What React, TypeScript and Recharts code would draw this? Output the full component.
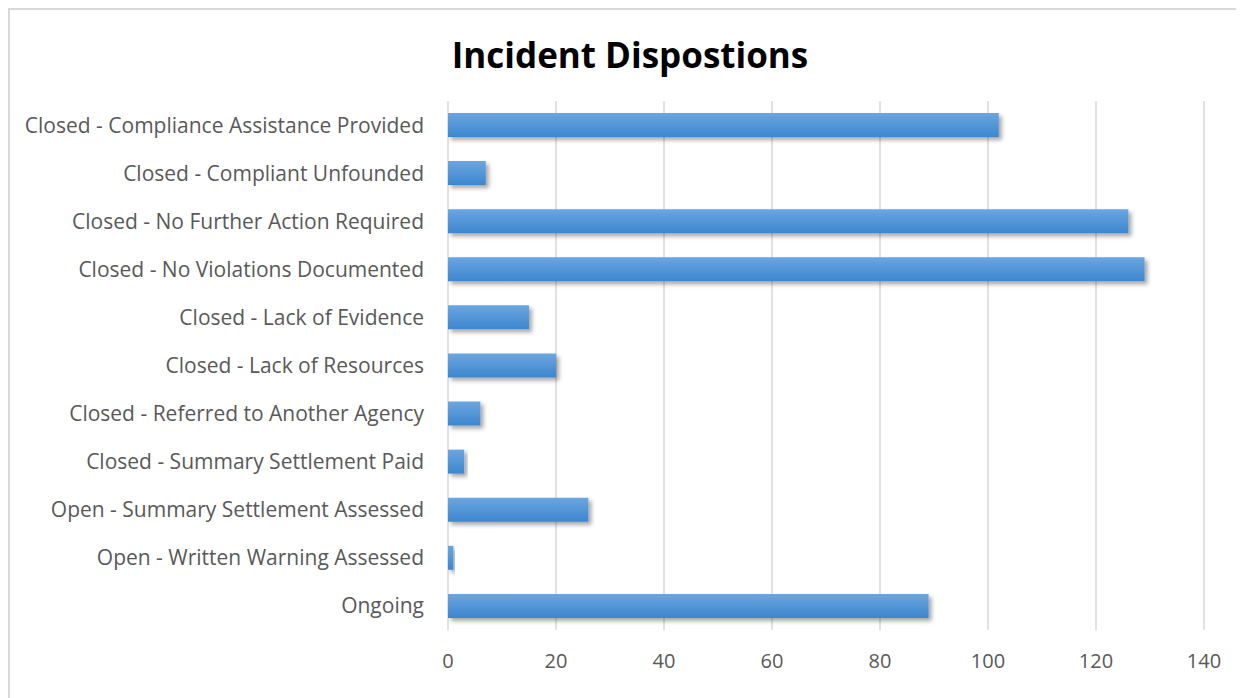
import React from 'react'
import { BarChart, Bar, XAxis, YAxis, CartesianGrid } from 'recharts'

const categories = [
  'Closed - Compliance Assistance Provided',
  'Closed - Compliant Unfounded',
  'Closed - No Further Action Required',
  'Closed - No Violations Documented',
  'Closed - Lack of Evidence',
  'Closed - Lack of Resources',
  'Closed - Referred to Another Agency',
  'Closed - Summary Settlement Paid',
  'Open - Summary Settlement Assessed',
  'Open - Written Warning Assessed',
  'Ongoing',
]

const counts = [102, 7, 126, 129, 15, 20, 6, 3, 26, 1, 89]

const xTicks = [0, 20, 40, 60, 80, 100, 120, 140]

const data = categories.map((name, i) => ({ name, count: counts[i] }))

const App: React.FC = () => {
  return (
    <div
      style={{
        position: 'relative',
        width: 1236,
        height: 690,
        borderTop: '2px solid #d9d9d9',
        borderLeft: '2px solid #d9d9d9',
        boxSizing: 'border-box',
        fontFamily: '"Open Sans", sans-serif',
        background: '#fff',
      }}
    >
      <div
        style={{
          position: 'absolute',
          left: 0,
          width: 1240,
          top: 21,
          textAlign: 'center',
          fontSize: 35,
          fontWeight: 700,
          color: '#000',
        }}
      >
        Incident Dispostions
      </div>
      <BarChart
        width={1234}
        height={688}
        layout="vertical"
        data={data}
        margin={{ top: 91, right: 40, bottom: 28, left: 0 }}
      >
        <defs>
          <linearGradient id="barFill" x1="0" y1="0" x2="0" y2="1">
            <stop offset="0%" stopColor="#6ba6e0" />
            <stop offset="100%" stopColor="#3d86cf" />
          </linearGradient>
          <filter id="barShadow" x="-10%" y="-30%" width="130%" height="180%">
            <feDropShadow dx="3" dy="3" stdDeviation="2" floodColor="#000" floodOpacity="0.35" />
          </filter>
        </defs>
        <CartesianGrid horizontal={false} stroke="#d9d9d9" strokeWidth={1.5} />
        <XAxis
          type="number"
          domain={[0, 140]}
          ticks={xTicks}
          axisLine={false}
          tickLine={false}
          tickSize={0}
          tickMargin={24}
          height={40}
          tick={{ fill: '#595959', fontSize: 20 }}
          interval={0}
        />
        <YAxis
          type="category"
          dataKey="name"
          width={438}
          axisLine={false}
          tickLine={false}
          tickSize={0}
          tickMargin={24}
          tick={{ fill: '#595959', fontSize: 21 }}
          interval={0}
        />
        <Bar
          dataKey="count"
          barSize={24}
          fill="url(#barFill)"
          filter="url(#barShadow)"
          isAnimationActive={false}
        />
      </BarChart>
    </div>
  )
}

export default App
